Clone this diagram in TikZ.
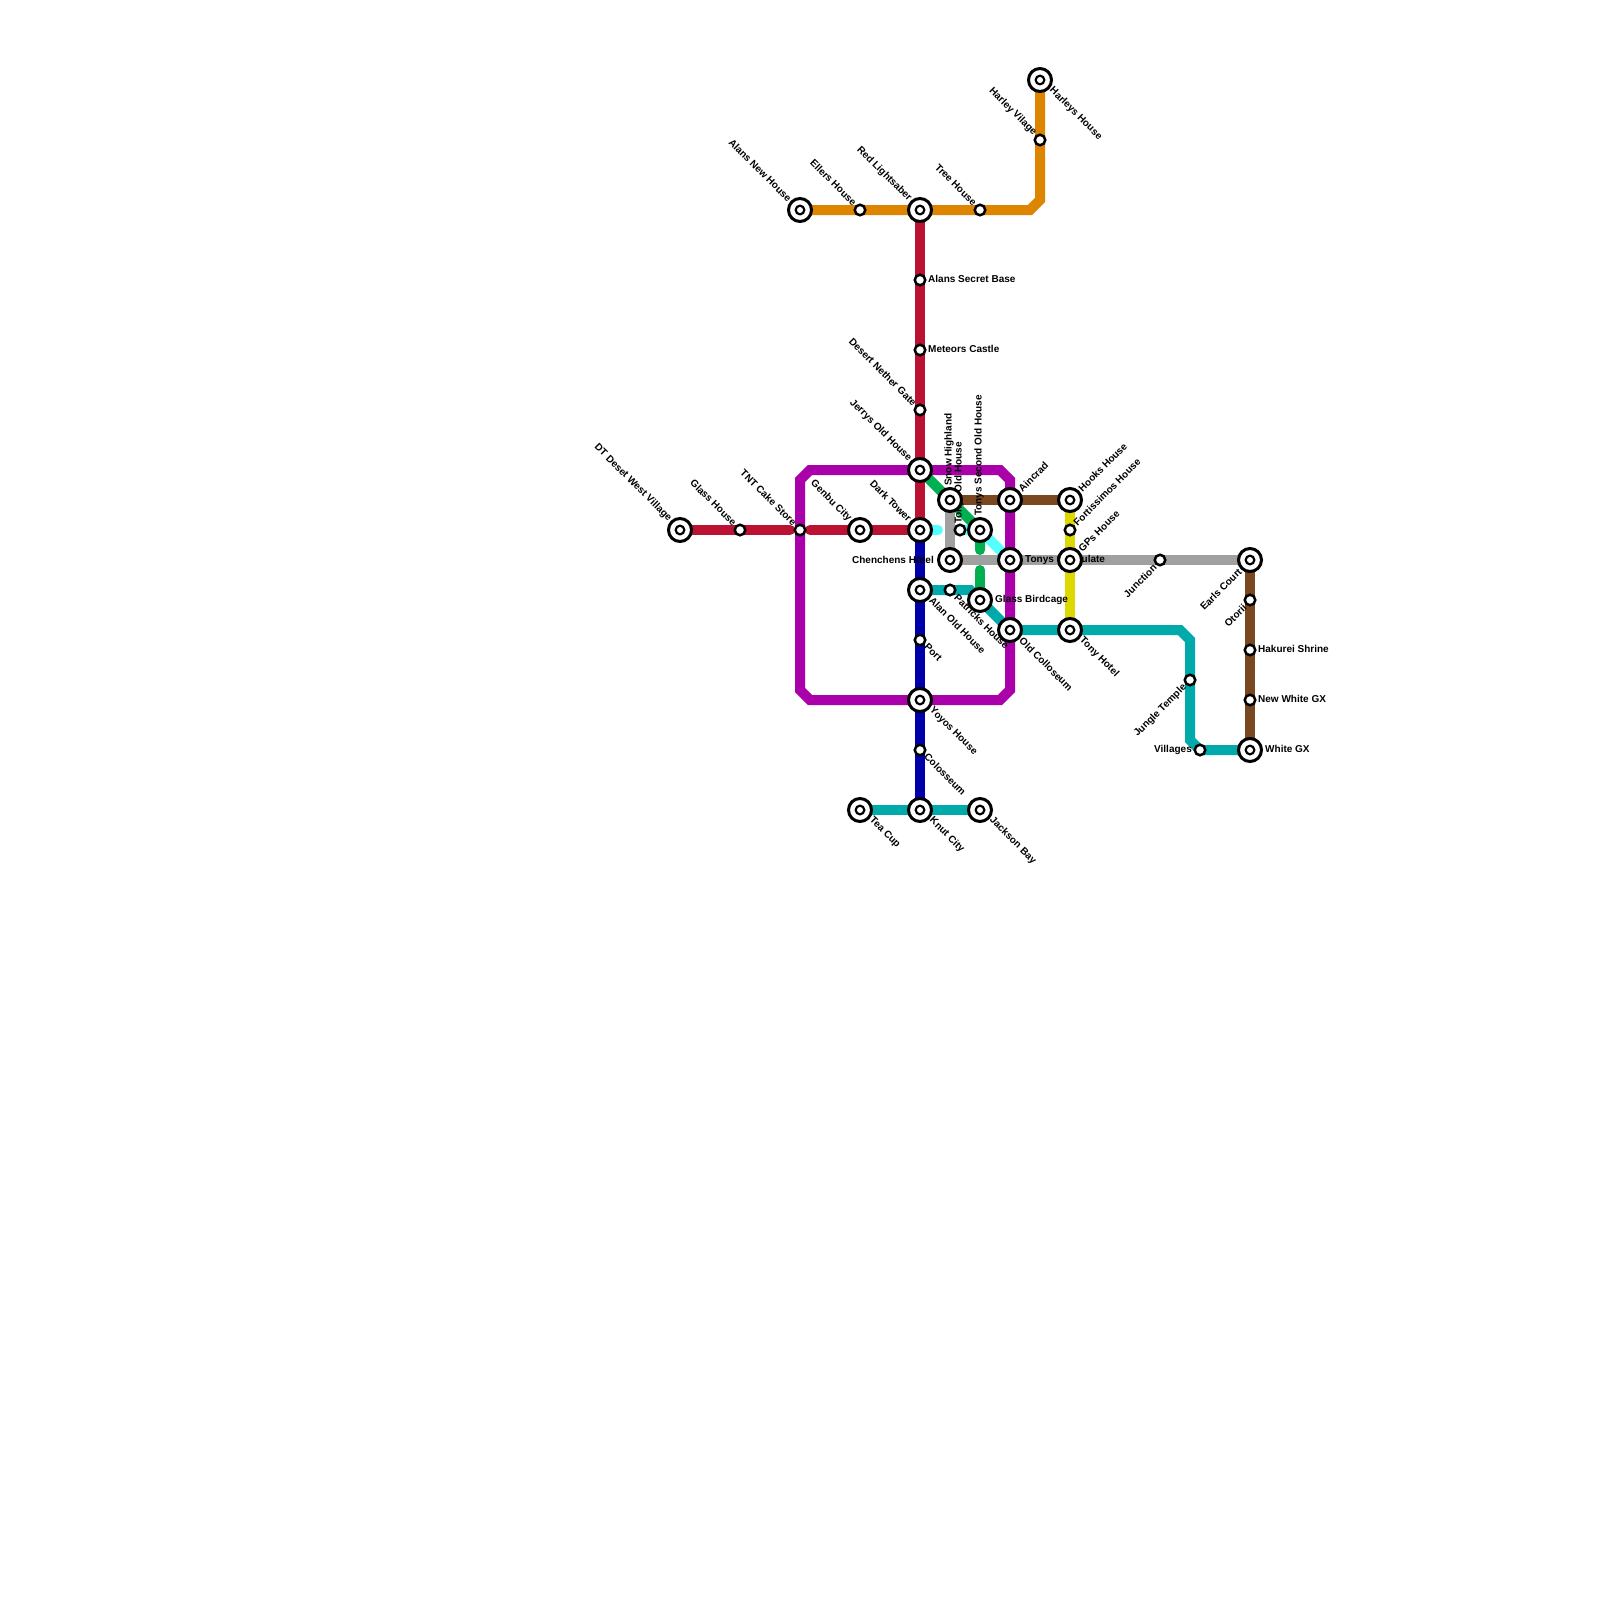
\documentclass[tikz,border=0pt]{standalone}
\usepackage{fontspec}
\setmainfont{Liberation Sans}
\usetikzlibrary{calc}
\pgfdeclarelayer{lines}
\pgfdeclarelayer{tags}
\pgfsetlayers{lines,tags,main}
\definecolor{lineorange}{HTML}{DD8500}
\definecolor{linered}{HTML}{BB1133}
\definecolor{linepurple}{HTML}{AA00AA}
\definecolor{lineblue}{HTML}{0000AA}
\definecolor{lineteal}{HTML}{00AAAA}
\definecolor{linegreen}{HTML}{00B050}
\definecolor{linecyan}{HTML}{55FFFF}
\definecolor{linegrey}{HTML}{A0A0A0}
\definecolor{linebrown}{HTML}{7A4820}
\definecolor{lineyellow}{HTML}{DDD800}
\tikzset{
  hub/.style={circle,draw=black,fill=white,line width=3pt,inner sep=0pt,minimum size=23pt,
    path picture={\fill[black] (path picture bounding box.center) circle (5.5pt);
      \fill[white] (path picture bounding box.center) circle (3pt);}},
  halt/.style={circle,draw=black,fill=white,line width=2.5pt,inner sep=0pt,minimum size=10.5pt},
  route/.style={line width=10pt},
  tag/.style={inner sep=0pt,font=\fontsize{10}{12}\bfseries\selectfont},
  tagul/.style={tag,rotate=-45,anchor=east},
  taglr/.style={tag,rotate=-45,anchor=west},
  tagur/.style={tag,rotate=45,anchor=west},
  tagll/.style={tag,rotate=45,anchor=east},
  tagup/.style={tag,rotate=90,anchor=west},
  tagr/.style={tag,anchor=west},
  tagl/.style={tag,anchor=east}
}
\begin{document}
\begin{tikzpicture}[x=1pt,y=-1pt]
\useasboundingbox (0,0) rectangle (1600,1600);
% stations
\node[hub] (alansnew) at (800,210) {};
\node[halt] (ellers) at (860,210) {};
\node[hub] (redlight) at (920,210) {};
\node[halt] (tree) at (980,210) {};
\node[halt] (harleyvil) at (1040,140) {};
\node[hub] (harleys) at (1040,80) {};
\node[halt] (secretbase) at (920,280) {};
\node[halt] (meteors) at (920,350) {};
\node[halt] (nether) at (920,410) {};
\node[hub] (jerrys) at (920,470) {};
\node[hub] (dt) at (680,530) {};
\node[halt] (glasshouse) at (740,530) {};
\node[halt] (tnt) at (800,530) {};
\node[hub] (genbu) at (860,530) {};
\node[hub] (dark) at (920,530) {};
\node[hub] (snow) at (950,500) {};
\node[hub] (aincrad) at (1010,500) {};
\node[hub] (hooks) at (1070,500) {};
\node[halt] (tonysold) at (960,530) {};
\node[hub] (tonyssecond) at (980,530) {};
\node[halt] (fortis) at (1070,530) {};
\node[hub] (chenchens) at (950,560) {};
\node[hub] (consulate) at (1010,560) {};
\node[hub] (gps) at (1070,560) {};
\node[halt] (junction) at (1160,560) {};
\node[hub] (earls) at (1250,560) {};
\node[hub] (alanold) at (920,590) {};
\node[halt] (patricks) at (950,590) {};
\node[hub] (birdcage) at (980,600) {};
\node[halt] (otorii) at (1250,600) {};
\node[hub] (oldcoll) at (1010,630) {};
\node[hub] (tonyhotel) at (1070,630) {};
\node[halt] (port) at (920,640) {};
\node[halt] (hakurei) at (1250,650) {};
\node[halt] (jungle) at (1190,680) {};
\node[hub] (yoyos) at (920,700) {};
\node[halt] (newwhite) at (1250,700) {};
\node[halt] (colosseum) at (920,750) {};
\node[halt] (villages) at (1200,750) {};
\node[hub] (whitegx) at (1250,750) {};
\node[hub] (teacup) at (860,810) {};
\node[hub] (knut) at (920,810) {};
\node[hub] (jackson) at (980,810) {};
% bends and line ends
\coordinate (orangea) at (1030,210);
\coordinate (orangeb) at (1040,200);
\coordinate (purplea) at (1000,470);
\coordinate (purpleb) at (1010,480);
\coordinate (purplec) at (1010,690);
\coordinate (purpled) at (1000,700);
\coordinate (purplee) at (810,700);
\coordinate (purplef) at (800,690);
\coordinate (purpleg) at (800,480);
\coordinate (purpleh) at (810,470);
\coordinate (redwest) at (790,530);
\coordinate (redeast) at (810,530);
\coordinate (tealbend) at (970,590);
\coordinate (teala) at (1180,630);
\coordinate (tealb) at (1190,640);
\coordinate (tealc) at (1190,740);
\coordinate (greenup) at (980,550);
\coordinate (greendown) at (980,570);
\coordinate (cyanend) at (938,530);
\begin{pgfonlayer}{lines}
\draw[route,linecyan,line cap=round] (dark.center) -- (cyanend);
\draw[route,linecyan] (tonysold.center) -- (tonyssecond.center) -- (consulate.center);
\draw[route,linegreen,line cap=round] (jerrys.center) -- (snow.center) -- (tonyssecond.center) -- (greenup);
\draw[route,linegreen,line cap=round] (greendown) -- (birdcage.center);
\draw[route,linered] (redlight.center) -- (secretbase.center) -- (meteors.center) -- (nether.center) -- (jerrys.center) -- (dark.center);
\draw[route,linered,line cap=round] (dt.center) -- (glasshouse.center) -- (redwest);
\draw[route,linered,line cap=round] (redeast) -- (genbu.center) -- (dark.center);
\draw[route,lineorange] (alansnew.center) -- (ellers.center) -- (redlight.center) -- (tree.center) -- (orangea) -- (orangeb) -- (harleyvil.center) -- (harleys.center);
\draw[route,lineblue] (dark.center) -- (alanold.center) -- (port.center) -- (yoyos.center) -- (colosseum.center) -- (knut.center);
\draw[route,lineteal] (teacup.center) -- (knut.center) -- (jackson.center);
\draw[route,lineyellow] (hooks.center) -- (fortis.center) -- (gps.center) -- (tonyhotel.center);
\draw[route,lineteal] (alanold.center) -- (patricks.center) -- (tealbend) -- (birdcage.center) -- (oldcoll.center) -- (tonyhotel.center) -- (teala) -- (tealb) -- (jungle.center) -- (tealc) -- (villages.center) -- (whitegx.center);
\draw[route,linepurple] (jerrys.center) -- (purplea) -- (purpleb) -- (aincrad.center) -- (consulate.center) -- (oldcoll.center) -- (purplec) -- (purpled) -- (yoyos.center) -- (purplee) -- (purplef) -- (tnt.center) -- (purpleg) -- (purpleh) -- cycle;
\draw[route,linegrey] (snow.center) -- (chenchens.center) -- (consulate.center) -- (gps.center) -- (junction.center) -- (earls.center);
\draw[route,linebrown] (snow.center) -- (aincrad.center) -- (hooks.center);
\draw[route,linebrown] (earls.center) -- (otorii.center) -- (hakurei.center) -- (newwhite.center) -- (whitegx.center);
\end{pgfonlayer}
% labels
\begin{pgfonlayer}{tags}
\node[tagul] (alansnewtag) at ([shift={(-10,-10)}]alansnew.center) {Alans New House};
\node[tagul] (ellerstag) at ([shift={(-5,-6)}]ellers.center) {Ellers House};
\node[tagul] (redlighttag) at ([shift={(-10,-10)}]redlight.center) {Red Lightsaber};
\node[tagul] (treetag) at ([shift={(-5,-6)}]tree.center) {Tree House};
\node[tagul] (harleyviltag) at ([shift={(-5,-6)}]harleyvil.center) {Harley Vilage};
\node[taglr] (harleystag) at ([shift={(11,9)}]harleys.center) {Harleys House};
\node[tagr] (secretbasetag) at ([shift={(8,-1)}]secretbase.center) {Alans Secret Base};
\node[tagr] (meteorstag) at ([shift={(8,-1)}]meteors.center) {Meteors Castle};
\node[tagul] (nethertag) at ([shift={(-5,-6)}]nether.center) {Desert Nether Gate};
\node[tagul] (jerrystag) at ([shift={(-10,-10)}]jerrys.center) {Jerrys Old House};
\node[tagul] (dttag) at ([shift={(-10,-10)}]dt.center) {DT Deset West Village};
\node[tagul] (glasshousetag) at ([shift={(-5,-6)}]glasshouse.center) {Glass House};
\node[tagul] (tnttag) at ([shift={(-5,-6)}]tnt.center) {TNT Cake Store};
\node[tagul] (genbutag) at ([shift={(-10,-10)}]genbu.center) {Genbu City};
\node[tagul] (darktag) at ([shift={(-10,-10)}]dark.center) {Dark Tower};
\node[tagup] (snowtag) at ([shift={(-1,-14)}]snow.center) {Snow Highland};
\node[tagur] (aincradtag) at ([shift={(10,-10)}]aincrad.center) {Aincrad};
\node[tagur] (hookstag) at ([shift={(10,-10)}]hooks.center) {Hooks House};
\node[tagup] (tonysoldtag) at ([shift={(-1,-6)}]tonysold.center) {Tonys Old House};
\node[tagup] (tonyssecondtag) at ([shift={(-1,-14)}]tonyssecond.center) {Tonys Second Old House};
\node[tagur] (fortistag) at ([shift={(5,-6)}]fortis.center) {Fortissimos House};
\node[tagl] (chenchenstag) at ([shift={(-16,0)}]chenchens.center) {Chenchens Hotel};
\node[tagr] (consulatetag) at ([shift={(15,0)}]consulate.center) {Tonys Consulate};
\node[tagur] (gpstag) at ([shift={(10,-10)}]gps.center) {GPs House};
\node[tagll] (junctiontag) at ([shift={(-5,6)}]junction.center) {Junction};
\node[tagll] (earlstag) at ([shift={(-10,10)}]earls.center) {Earls Court};
\node[taglr] (alanoldtag) at ([shift={(11,9)}]alanold.center) {Alan Old House};
\node[taglr] (patrickstag) at ([shift={(6,6)}]patricks.center) {Patricks House};
\node[tagr] (birdcagetag) at ([shift={(15,0)}]birdcage.center) {Glass Birdcage};
\node[tagll] (otoriitag) at ([shift={(-5,6)}]otorii.center) {Otorii};
\node[taglr] (oldcolltag) at ([shift={(11,9)}]oldcoll.center) {Old Colloseum};
\node[taglr] (tonyhoteltag) at ([shift={(11,9)}]tonyhotel.center) {Tony Hotel};
\node[taglr] (porttag) at ([shift={(6,5)}]port.center) {Port};
\node[tagr] (hakureitag) at ([shift={(8,-1)}]hakurei.center) {Hakurei Shrine};
\node[tagll] (jungletag) at ([shift={(-5,6)}]jungle.center) {Jungle Temple};
\node[taglr] (yoyostag) at ([shift={(11,9)}]yoyos.center) {Yoyos House};
\node[tagr] (newwhitetag) at ([shift={(8,-1)}]newwhite.center) {New White GX};
\node[taglr] (colosseumtag) at ([shift={(6,5)}]colosseum.center) {Colosseum};
\node[tagl] (villagestag) at ([shift={(-8,0)}]villages.center) {Villages};
\node[tagr] (whitegxtag) at ([shift={(15,-1)}]whitegx.center) {White GX};
\node[taglr] (teacuptag) at ([shift={(11,9)}]teacup.center) {Tea Cup};
\node[taglr] (knuttag) at ([shift={(11,9)}]knut.center) {Knut City};
\node[taglr] (jacksontag) at ([shift={(11,9)}]jackson.center) {Jackson Bay};
\end{pgfonlayer}
\end{tikzpicture}
\end{document}
